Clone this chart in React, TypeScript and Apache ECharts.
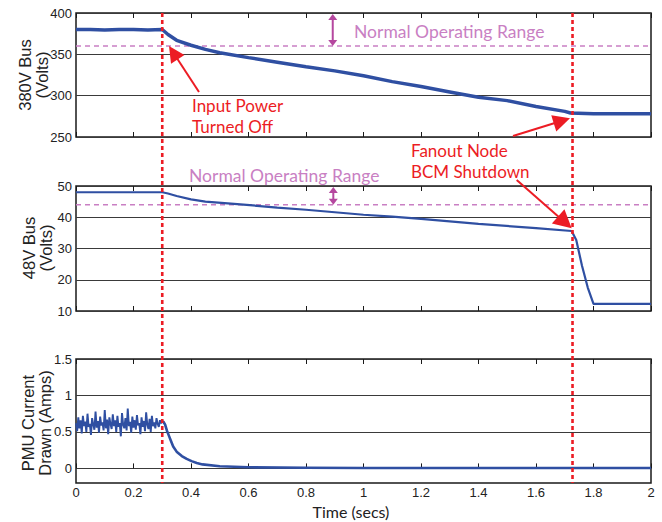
import React, { useEffect, useRef } from "react";
import * as echarts from "echarts";

// ---- Data ----
const bus380Time = [0, 0.05, 0.1, 0.15, 0.2, 0.25, 0.3, 0.32, 0.35, 0.4, 0.45, 0.5, 0.6, 0.7, 0.8, 0.9, 1.0, 1.1, 1.2, 1.3, 1.4, 1.5, 1.6, 1.7, 1.72, 1.8, 1.9, 2.0];
const bus380Volts = [380, 380, 379.5, 380, 380, 379.5, 380, 374, 367, 361, 356, 352, 346, 340.5, 335, 330, 324, 317, 311, 304.5, 298, 294, 287, 281, 279, 278, 278, 278];

const bus48Time = [0, 0.1, 0.2, 0.3, 0.32, 0.35, 0.4, 0.45, 0.55, 0.7, 0.8, 1.0, 1.1, 1.2, 1.4, 1.6, 1.724, 1.74, 1.76, 1.78, 1.8, 1.9, 2.0];
const bus48Volts = [48, 48, 48, 48, 47.6, 46.8, 45.7, 45.0, 44.3, 43.1, 42.4, 40.8, 40.2, 39.5, 37.9, 36.5, 35.6, 32.7, 24.5, 17.5, 12.3, 12.3, 12.3];

const currentNoiseStep = 0.004; // sampling step of the noisy PMU current segment (s)
const currentNoiseAmps = [
  0.62, 0.51, 0.70, 0.55, 0.66, 0.48, 0.72, 0.58, 0.64, 0.50, 0.75, 0.57, 0.61, 0.46, 0.69, 0.60,
  0.53, 0.78, 0.56, 0.65, 0.49, 0.71, 0.59, 0.63, 0.52, 0.80, 0.55, 0.67, 0.47, 0.70, 0.61, 0.54,
  0.74, 0.58, 0.66, 0.50, 0.72, 0.57, 0.62, 0.44, 0.76, 0.60, 0.55, 0.69, 0.52, 0.82, 0.58, 0.64,
  0.49, 0.71, 0.56, 0.66, 0.53, 0.73, 0.59, 0.62, 0.47, 0.70, 0.57, 0.65, 0.51, 0.77, 0.60, 0.54,
  0.68, 0.50, 0.72, 0.58, 0.63, 0.55, 0.69, 0.61, 0.57, 0.66, 0.62, 0.64,
];
const currentDecayTime = [0.300, 0.304, 0.31, 0.316, 0.322, 0.33, 0.338, 0.35, 0.368, 0.385, 0.402, 0.42, 0.44, 0.5, 0.6, 0.8, 1.0, 1.4, 1.8, 2.0];
const currentDecayAmps = [0.64, 0.64, 0.60, 0.52, 0.46, 0.38, 0.30, 0.23, 0.17, 0.13, 0.10, 0.075, 0.055, 0.03, 0.015, 0.01, 0.005, 0.005, 0.005, 0.005];

const normalMin380 = 360;
const normalMin48 = 44;
const eventTimes = [0.3, 1.727];
const ampTicks = [0, 0.5, 1, 1.5];

const BLUE = "#2f4fa2";
const RED = "#ec1c24";
const MAG_LIGHT = "#c97fc3";
const MAG_DARK = "#b5479f";
const AX = "#1a1a1a";
const FONT = "'Liberation Sans', Arial, sans-serif";
const TFONT = "Lato, 'Open Sans', sans-serif";

function arrow(tail: number[], tip: number[], color: string, headLen: number, headW: number, width: number) {
  const dx = tip[0] - tail[0];
  const dy = tip[1] - tail[1];
  const L = Math.hypot(dx, dy);
  const ux = dx / L, uy = dy / L;
  const bx = tip[0] - ux * headLen, by = tip[1] - uy * headLen;
  const px = -uy, py = ux;
  return [
    { type: "line", z: 100, shape: { x1: tail[0], y1: tail[1], x2: bx + ux * 2, y2: by + uy * 2 }, style: { stroke: color, lineWidth: width } },
    { type: "polygon", z: 100, shape: { points: [[tip[0], tip[1]], [bx + px * headW, by + py * headW], [bx - px * headW, by - py * headW]] }, style: { fill: color } },
  ];
}

function doubleArrow(x: number, y1: number, y2: number, color: string) {
  const hl = 6, hw = 4.5;
  return [
    { type: "line", z: 100, shape: { x1: x, y1: y1 + 3, x2: x, y2: y2 - 3 }, style: { stroke: color, lineWidth: 2 } },
    { type: "polygon", z: 100, shape: { points: [[x, y1], [x - hw, y1 + hl], [x + hw, y1 + hl]] }, style: { fill: color } },
    { type: "polygon", z: 100, shape: { points: [[x, y2], [x - hw, y2 - hl], [x + hw, y2 - hl]] }, style: { fill: color } },
  ];
}

function label(text: string, x: number, y: number, color: string, size: number) {
  return {
    type: "text", z: 100, x, y,
    style: { text, fill: color, fontSize: size, fontFamily: TFONT, align: "left", verticalAlign: "middle" },
  };
}

function yTitle(text: string, x: number, y: number) {
  return {
    type: "text", z: 100, x, y, rotation: Math.PI / 2,
    style: { text, fill: "#222", fontSize: 16.5, fontFamily: FONT, lineHeight: 17, align: "center", verticalAlign: "middle" },
  };
}

export default function App() {
  const ref = useRef<HTMLDivElement>(null);
  useEffect(() => {
    if (!ref.current) return;
    const chart = echarts.init(ref.current, undefined, { renderer: "svg" });

    const gridBoxes = [
      { left: 76, top: 13, width: 575, height: 124 },
      { left: 76, top: 186, width: 575, height: 125 },
      { left: 76, top: 359, width: 575, height: 124 },
    ];
    const grid = gridBoxes.map((g) => ({
      ...g, show: true, borderColor: AX, borderWidth: 1.5, backgroundColor: "transparent",
      containLabel: false, outerBoundsMode: "none",
    }));

    const xBase = (gi: number, pos: "bottom" | "top", showLabel: boolean) => ({
      type: "value", gridIndex: gi, position: pos, min: 0, max: 2, interval: 0.2,
      axisLine: { show: false },
      axisTick: { show: true, inside: true, length: 5, lineStyle: { color: AX, width: 1 } },
      splitLine: { show: false },
      axisLabel: { show: showLabel, color: "#222", fontSize: 13, fontFamily: FONT, margin: 3 },
    });
    const xAxis = [
      xBase(0, "bottom", false), xBase(1, "bottom", false), xBase(2, "bottom", true),
      xBase(0, "top", false), xBase(1, "top", false), xBase(2, "top", false),
    ];

    const yCommon = {
      type: "value",
      axisLine: { show: false },
      axisTick: { show: false },
      splitLine: { show: true, lineStyle: { color: "#3a3a3a", width: 1 } },
      axisLabel: { color: "#222", fontSize: 13, fontFamily: FONT, margin: 4 },
    };
    const yAxis = [
      { ...yCommon, gridIndex: 0, min: 250, max: 400, interval: 50 },
      { ...yCommon, gridIndex: 1, min: 10, max: 50, interval: 10 },
      {
        ...yCommon, gridIndex: 2, min: -0.2, max: 1.5,
        axisLabel: { ...yCommon.axisLabel, customValues: ampTicks },
        axisTick: { show: false, customValues: ampTicks },
      },
    ];

    const noiseData: number[][] = currentNoiseAmps.map((v, i) => [i * currentNoiseStep, v]);
    const decayData: number[][] = currentDecayTime.map((t, i) => [t, currentDecayAmps[i]]);

    const lineSeries = (xi: number, yi: number, data: number[][], width: number, z = 3) => ({
      type: "line", xAxisIndex: xi, yAxisIndex: yi, data, showSymbol: false, symbol: "none",
      lineStyle: { color: BLUE, width }, itemStyle: { color: BLUE }, z, silent: true,
    });
    const dashSeries = (xi: number, yi: number, v: number) => ({
      type: "line", xAxisIndex: xi, yAxisIndex: yi, data: [[0, v], [2, v]], showSymbol: false, symbol: "none",
      lineStyle: { color: MAG_LIGHT, width: 1.6, type: [5, 4] }, z: 2, silent: true,
    });

    const series = [
      dashSeries(0, 0, normalMin380),
      dashSeries(1, 1, normalMin48),
      lineSeries(0, 0, bus380Time.map((t, i) => [t, bus380Volts[i]]), 3.5),
      lineSeries(1, 1, bus48Time.map((t, i) => [t, bus48Volts[i]]), 2.2),
      lineSeries(2, 2, noiseData, 1.9),
      lineSeries(2, 2, decayData, 2.6),
    ];

    chart.setOption({
      animation: false,
      backgroundColor: "#ffffff",
      grid, xAxis, yAxis, series,
    });

    // Event markers (red dotted verticals) through all three panels
    const graphics: any[] = [];
    eventTimes.forEach((t) => {
      const top = chart.convertToPixel({ gridIndex: 0 }, [t, 400]) as number[];
      const bot = chart.convertToPixel({ gridIndex: 2 }, [t, -0.2]) as number[];
      graphics.push({
        type: "line", z: 90, shape: { x1: top[0], y1: top[1], x2: bot[0], y2: bot[1] },
        style: { stroke: RED, lineWidth: 2.6, lineDash: [4, 3] },
      });
    });
    // Normal operating range double arrows
    const a1t = chart.convertToPixel({ gridIndex: 0 }, [0.893, 400]) as number[];
    const a1b = chart.convertToPixel({ gridIndex: 0 }, [0.893, normalMin380]) as number[];
    graphics.push(...doubleArrow(a1t[0], a1t[1] + 1, a1b[1], MAG_DARK));
    const a2t = chart.convertToPixel({ gridIndex: 1 }, [0.895, 50]) as number[];
    const a2b = chart.convertToPixel({ gridIndex: 1 }, [0.895, normalMin48]) as number[];
    graphics.push(...doubleArrow(a2t[0], a2t[1] + 1, a2b[1], MAG_DARK));

    graphics.push(label("Normal Operating Range", 354, 31, MAG_LIGHT, 17.5));
    graphics.push(label("Normal Operating Range", 189, 175, MAG_LIGHT, 17.5));
    graphics.push(label("Input Power", 192, 105, RED, 17));
    graphics.push(label("Turned Off", 192, 126, RED, 17));
    graphics.push(label("Fanout Node", 411, 150, RED, 17));
    graphics.push(label("BCM Shutdown", 411, 171, RED, 17));

    graphics.push(...arrow([199, 92], [169, 46], RED, 16, 8, 2));
    graphics.push(...arrow([513, 136], [570, 118.3], RED, 17, 8.5, 2));
    graphics.push(...arrow([516.7, 180], [571.7, 228.3], RED, 18, 9.5, 2));

    // Axis titles
    graphics.push(yTitle("380V Bus\n(Volts)", 33, 75));
    graphics.push(yTitle("48V Bus\n(Volts)", 37, 248));
    graphics.push(yTitle("PMU Current\nDrawn (Amps)", 36, 423));
    graphics.push({
      type: "text", z: 100, x: 351, y: 511,
      style: { text: "Time (secs)", fill: "#222", fontSize: 16, fontFamily: TFONT, align: "center", verticalAlign: "middle" },
    });

    chart.setOption({ graphic: graphics });

    return () => chart.dispose();
  }, []);

  return <div ref={ref} style={{ position: "fixed", left: 0, top: 0, width: 662, height: 522 }} />;
}
